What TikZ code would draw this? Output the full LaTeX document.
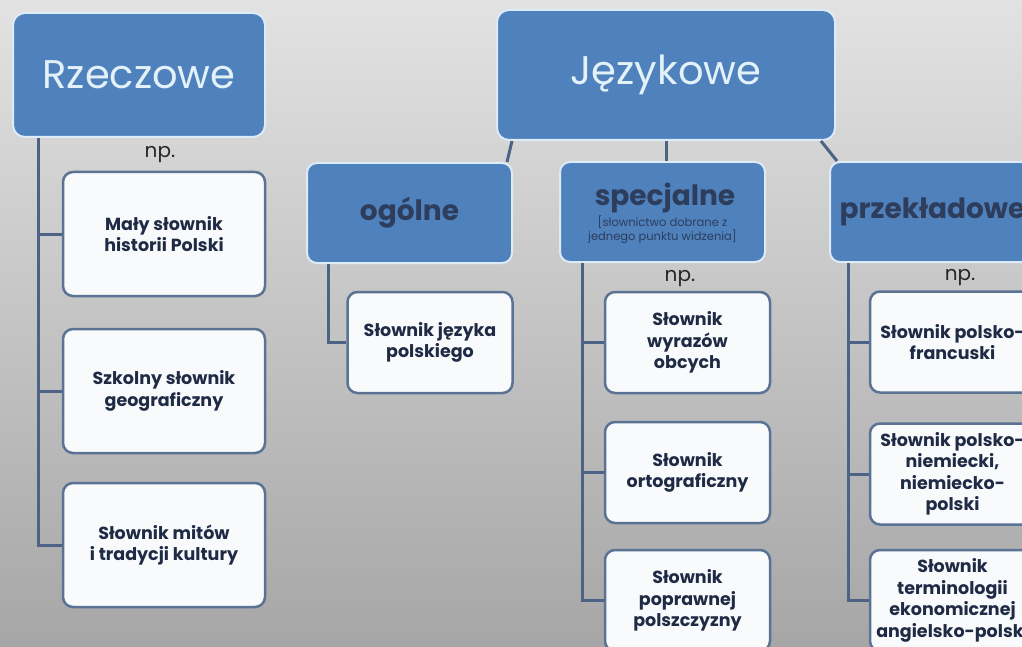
\documentclass[tikz,border=0pt]{standalone}
\usepackage{fontspec}
\setmainfont{Poppins}
\usepackage{tikz}

\definecolor{boxblue}{HTML}{4F81BD}
\definecolor{boxedge}{HTML}{DDEBF7}
\definecolor{titlelight}{HTML}{E3F1F8}
\definecolor{titledark}{HTML}{2E3D5B}
\definecolor{leaffill}{HTML}{F8FAFC}
\definecolor{leafedge}{HTML}{5A7394}
\definecolor{linkcol}{HTML}{4C6385}
\definecolor{leaftext}{HTML}{1F2A45}
\definecolor{bgtop}{HTML}{E2E2E2}
\definecolor{bgbot}{HTML}{A6A6A6}

\begin{document}
\begin{tikzpicture}[x=1pt, y=-1pt,
  topbox/.style = {draw=boxedge, line width=2pt, fill=boxblue, rounded corners=12pt, text=titlelight, font=\fontsize{40}{46}\selectfont},
  catbox/.style = {draw=boxedge, line width=2pt, fill=boxblue, rounded corners=10pt, minimum width=205pt, minimum height=100pt, text=titledark, font=\bfseries\fontsize{28}{32}\selectfont},
  leafbox/.style = {draw=leafedge, line width=2.5pt, fill=leaffill, rounded corners=10pt, minimum width=165pt, minimum height=101pt, align=center, text=leaftext, font=\bfseries\fontsize{17.5}{21.5}\selectfont},
  npnote/.style = {text=black!85, font=\fontsize{20}{24}\selectfont},
  link/.style = {draw=linkcol, line width=3pt}]

\useasboundingbox (0,0) rectangle (1022,647);
\clip (0,0) rectangle (1022,647);
\shade[top color=bgtop, bottom color=bgbot] (0,0) rectangle (1022,647);

%% main boxes
\node[topbox, minimum width=252pt, minimum height=124pt] (rzecz) at (139,75) {Rzeczowe};
\node[topbox, minimum width=338pt, minimum height=130pt] (jez) at (666,75) {Językowe};

\node[catbox] (ogol) at (409.5,213) {ogólne};
\node[catbox] (spec) at (662.5,212) {};
\node[text=titledark, font=\bfseries\fontsize{28}{32}\selectfont] (spectitle) at (665,198) {specjalne};
\node[text=titledark, align=center, font=\fontsize{11.5}{14}\selectfont] (specnote) at (662.5,230) {[słownictwo dobrane z\\jednego punktu widzenia]};
\node[catbox] (przek) at (932.5,212) {przekładowe};

%% np. labels
\node[npnote] (np1) at (160,155) {np.};
\node[npnote] (np2) at (680,279) {np.};
\node[npnote] (np3) at (960,278) {np.};

%% examples
\node[leafbox, minimum width=202pt, minimum height=124pt] (m1) at (164,234) {Mały słownik\\historii Polski};
\node[leafbox, minimum width=202pt, minimum height=124pt] (m2) at (164,391) {Szkolny słownik\\geograficzny};
\node[leafbox, minimum width=202pt, minimum height=124pt] (m3) at (164,545) {Słownik mitów\\i tradycji kultury};

\node[leafbox] (o1) at (430,342.5) {Słownik języka\\polskiego};

\node[leafbox] (s1) at (687.5,342.5) {Słownik\\wyrazów\\obcych};
\node[leafbox] (s2) at (687.5,472.5) {Słownik\\ortograficzny};
\node[leafbox] (s3) at (687.5,600.5) {Słownik\\poprawnej\\polszczyzny};

\node[leafbox] (p1) at (952.5,342) {Słownik polsko-\\francuski};
\node[leafbox] (p2) at (952.5,474) {Słownik polsko-\\niemiecki,\\niemiecko-\\polski};
\node[leafbox] (p3) at (952.5,600.5) {Słownik\\terminologii\\ekonomicznej\\angielsko-polski};

%%% edges
\draw[link] ([xshift=16pt]jez.south west) -- ([xshift=-6pt]ogol.north east);
\draw[link] (jez.south) -- (jez.south |- spec.north);
\draw[link] ([xshift=-15pt]jez.south east) -- ([xshift=8pt]przek.north west);

\draw[link] ([xshift=-101pt]rzecz.south) |- (m1.west);
\draw[link] ([xshift=-101pt]rzecz.south) |- (m2.west);
\draw[link] ([xshift=-101pt]rzecz.south) |- (m3.west);

\draw[link] ([xshift=-81.5pt]ogol.south) |- (o1.west);

\draw[link] ([xshift=-80.5pt]spec.south) |- (s1.west);
\draw[link] ([xshift=-80.5pt]spec.south) |- (s2.west);
\draw[link] ([xshift=-80.5pt]spec.south) |- (s3.west);

\draw[link] ([xshift=-84.5pt]przek.south) |- (p1.west);
\draw[link] ([xshift=-84.5pt]przek.south) |- (p2.west);
\draw[link] ([xshift=-84.5pt]przek.south) |- (p3.west);

\end{tikzpicture}
\end{document}
